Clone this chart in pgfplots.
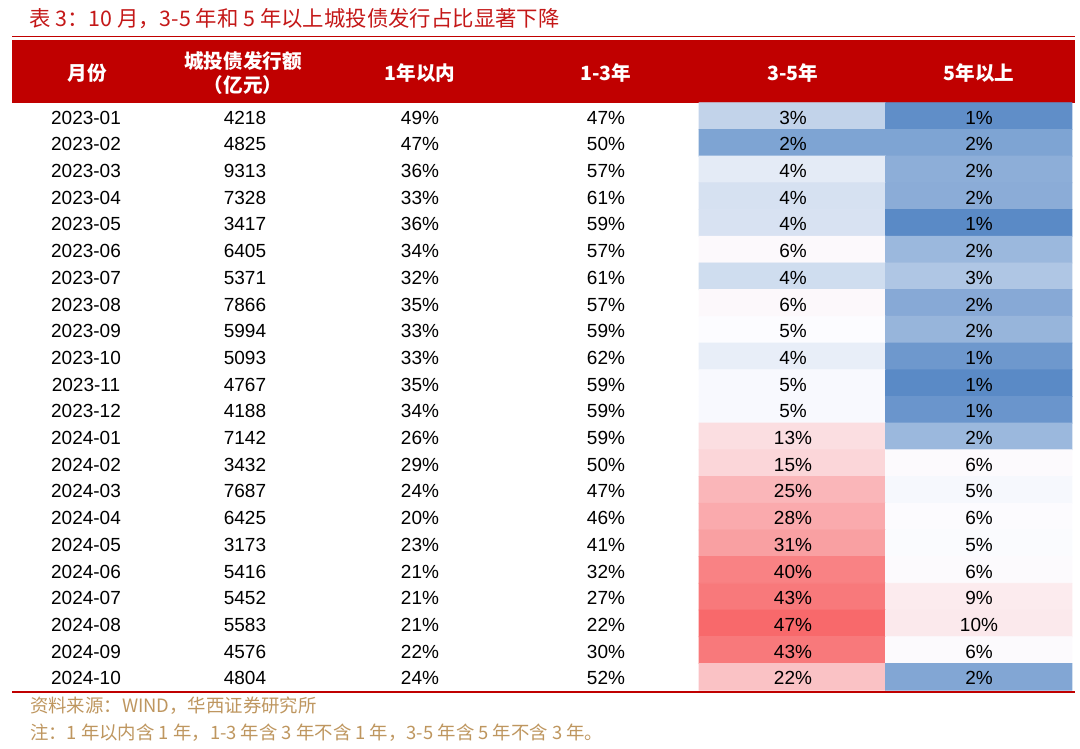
\documentclass[border=0pt]{standalone}
\usepackage{pgfplots}
\pgfplotsset{compat=1.18}
\usepackage{pgfplotstable}
\usepackage{fontspec}
\setmainfont{Liberation Sans}
\newfontfamily\cjk{Noto Sans CJK SC}

\definecolor{hdrred}{RGB}{192,0,0}
\definecolor{ttlred}{RGB}{196,24,24}
\definecolor{srcgold}{RGB}{190,150,95}

\newcommand\bodyfont{\fontsize{9.5bp}{11bp}\selectfont}

% month, issuance (100m yuan), shares by tenor (%)
\pgfplotstableread{
month amt p1 p13 p35 p5
2023-01 4218 49 47 3 1
2023-02 4825 47 50 2 2
2023-03 9313 36 57 4 2
2023-04 7328 33 61 4 2
2023-05 3417 36 59 4 1
2023-06 6405 34 57 6 2
2023-07 5371 32 61 4 3
2023-08 7866 35 57 6 2
2023-09 5994 33 59 5 2
2023-10 5093 33 62 4 1
2023-11 4767 35 59 5 1
2023-12 4188 34 59 5 1
2024-01 7142 26 59 13 2
2024-02 3432 29 50 15 6
2024-03 7687 24 47 25 5
2024-04 6425 20 46 28 6
2024-05 3173 23 41 31 5
2024-06 5416 21 32 40 6
2024-07 5452 21 27 43 9
2024-08 5583 21 22 47 10
2024-09 4576 22 30 43 6
2024-10 4804 24 52 22 2
}\data

% heat map cells: column (0 = 3-5y, 1 = 5y+), row, underlying share
\pgfplotstableread{
c r m
0 0 3.56
1 0 1.15
0 1 1.9
1 1 1.9
0 2 4.4
1 2 2.25
0 3 4.05
1 3 2.2
0 4 4.1
1 4 1.0
0 5 5.8
1 5 2.6
0 6 3.9
1 6 3.1
0 7 6.0
1 7 2.1
0 8 5.0
1 8 2.5
0 9 4.5
1 9 1.5
0 10 4.9
1 10 1.0
0 11 4.9
1 11 1.4
0 12 13.6
1 12 2.6
0 13 15.9
1 13 5.5
0 14 25
1 14 4.85
0 15 28.4
1 15 5.3
0 16 31.3
1 16 4.95
0 17 39.9
1 17 5.7
0 18 42.4
1 18 9.8
0 19 47
1 19 10.4
0 20 42.4
1 20 5.6
0 21 21.6
1 21 2.0
}\heat

\begin{document}
\begin{tikzpicture}
\begin{axis}[
  width=540bp, height=374bp, scale only axis,
  xmin=0, xmax=1080, ymin=0, ymax=748, y dir=reverse,
  hide axis, clip=false,
  colormap={heat}{rgb255(0cm)=(90,138,198) rgb255(4cm)=(252,252,255) rgb255(46cm)=(248,105,107)},
  point meta min=1, point meta max=47,
  every node near coord/.append style={font=\bodyfont, text=black, anchor=center, inner sep=0pt},
]
% keep the whole canvas in the bounding box
\path (axis cs:0,0) rectangle (axis cs:1080,748);
% title and header band
\node[anchor=west, text=ttlred, font=\cjk\fontsize{10.7bp}{12bp}\selectfont] at (axis cs:22,19)
  {表 3：10 月，3-5 年和 5 年以上城投债发行占比显著下降};
\draw[hdrred, line width=0.8bp] (axis cs:12,36.5) -- (axis cs:1075,36.5);
\fill[hdrred] (axis cs:12,39.5) rectangle (axis cs:1075,102.7);
\begin{scope}[every node/.style={text=white, font=\cjk\bfseries\fontsize{9.8bp}{11bp}\selectfont}]
\node at (axis cs:87,73) {月份};
\node at (axis cs:243,61) {城投债发行额};
\node at (axis cs:243,85) {（亿元）};
\node at (axis cs:420,73) {1年以内};
\node at (axis cs:606,73) {1-3年};
\node at (axis cs:793,73) {3-5年};
\node at (axis cs:979,73) {5年以上};
\end{scope}

% colour scale cells
\addplot[matrix plot*, mesh/cols=2, point meta=explicit]
  table[x expr=792.3+186.4*\thisrow{c}, y expr=116.05+26.7*\thisrow{r}, meta=m] {\heat};

% cell texts
\addplot[draw=none, mark=none, point meta=explicit symbolic, nodes near coords]
  table[x expr=86, y expr=117.6+26.7*\coordindex, meta=month] {\data};
\addplot[draw=none, mark=none, point meta=explicit symbolic, nodes near coords]
  table[x expr=245, y expr=117.6+26.7*\coordindex, meta=amt] {\data};
\addplot[draw=none, mark=none, point meta=explicit symbolic, nodes near coords={\pgfplotspointmeta\%}]
  table[x expr=420, y expr=117.6+26.7*\coordindex, meta=p1] {\data};
\addplot[draw=none, mark=none, point meta=explicit symbolic, nodes near coords={\pgfplotspointmeta\%}]
  table[x expr=606, y expr=117.6+26.7*\coordindex, meta=p13] {\data};
\addplot[draw=none, mark=none, point meta=explicit symbolic, nodes near coords={\pgfplotspointmeta\%}]
  table[x expr=793, y expr=117.6+26.7*\coordindex, meta=p35] {\data};
\addplot[draw=none, mark=none, point meta=explicit symbolic, nodes near coords={\pgfplotspointmeta\%}]
  table[x expr=979, y expr=117.6+26.7*\coordindex, meta=p5] {\data};

% bottom rule and notes
\draw[hdrred, line width=1bp] (axis cs:12,691.5) -- (axis cs:1075,691.5);
\begin{scope}[every node/.style={anchor=west, text=srcgold, font=\cjk\fontsize{9.2bp}{11bp}\selectfont}]
\node at (axis cs:23,706) {资料来源：WIND，华西证券研究所};
\node at (axis cs:23,733) {注：1 年以内含 1 年，1-3 年含 3 年不含 1 年，3-5 年含 5 年不含 3 年。};
\end{scope}
\end{axis}
\end{tikzpicture}
\end{document}
